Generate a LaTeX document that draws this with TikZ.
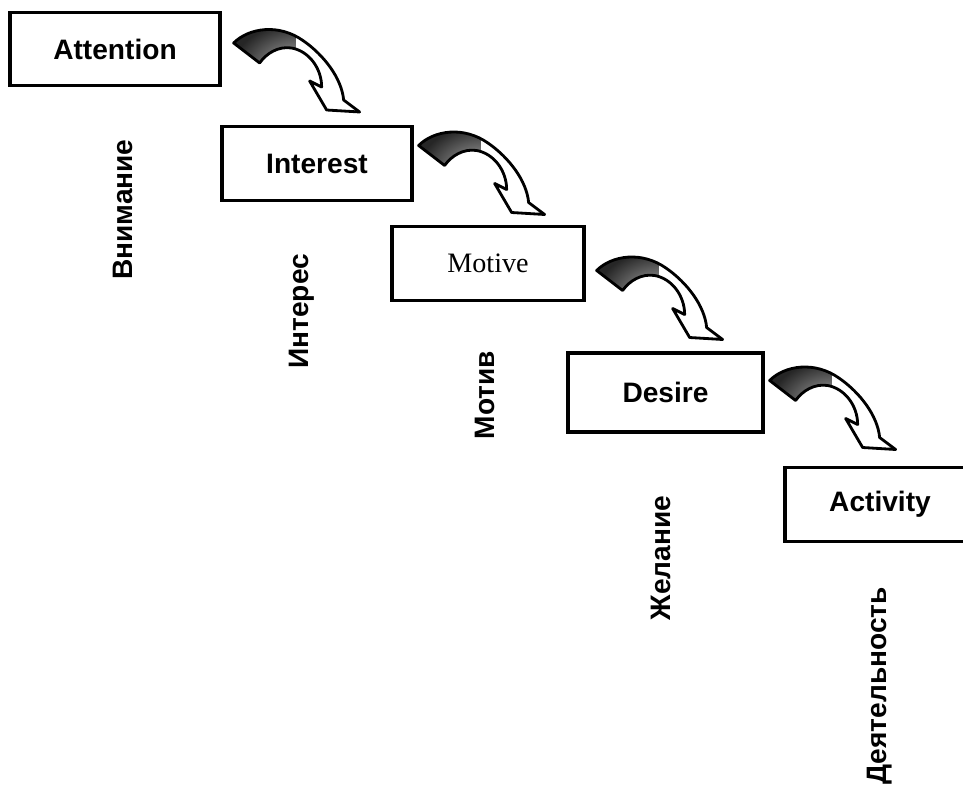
\documentclass[tikz,border=0pt]{standalone}
\usepackage{fontspec}
\setmainfont{Liberation Sans}
\newfontfamily\timesfont{Liberation Serif}

\tikzset{
  stage/.style={draw,line width=2.8pt,minimum height=2.2cm,
    font=\fontsize{24}{29}\selectfont\bfseries},
  russ/.style={rotate=90,anchor=east,font=\fontsize{24}{29}\selectfont\bfseries},
  bend arrow/.pic={
    \draw[x=0.3mm,y=-0.3mm,line width=2.4pt,line join=round,fill=white,
      path picture={\fill[inner color=gray!60,outer color=black!85]
        ([yshift=-1.5cm]path picture bounding box.north west) rectangle
        ([xshift=1.85cm]path picture bounding box.north west);}]
      (0,0) .. controls (15,-15) and (45,-20) .. (70,-2)
      .. controls (90,12) and (108,35) .. (110,57) -- (126,69) -- (93,67)
      -- (76,38) -- (88,44) .. controls (88,25) and (75,8) .. (58,5)
      .. controls (45,3) and (33,10) .. (26,20) -- cycle;
  }
}

\begin{document}
\begin{tikzpicture}
\useasboundingbox (0,0) rectangle (28.89,-23.61);
% the five stages, stepping down to the right
\node[stage,minimum width=6.3cm] (att) at (3.45,-1.47) {Attention};
\node[stage,minimum width=5.7cm] (int) at (9.51,-4.905) {Interest};
\node[stage,minimum width=5.76cm,font=\fontsize{24}{29}\timesfont]
     (mot) at (14.64,-7.905) {Motive};
\node[stage,minimum width=5.85cm,minimum height=2.37cm]
     (des) at (19.965,-11.775) {Desire};
\node[stage,minimum width=5.7cm] (act) at (26.4,-15.135) {Activity};
% russian names under the boxes
\node[russ] (vnim) at ([shift={(0.24,-1.44)}]att.south) {Внимание};
\node[russ] (inter) at ([shift={(-0.45,-1.44)}]int.south) {Интерес};
\node[russ] (motiv) at ([shift={(-0.09,-1.35)}]mot.south) {Мотив};
\node[russ] (zhel) at ([shift={(-0.135,-1.74)}]des.south) {Желание};
\node[russ] (deyat) at ([shift={(0,-1.2)}]act.south) {Деятельность};
% curved arrows between the stages
\pic at ([shift={(0.36,0.18)}]att.east) {bend arrow};
\pic at ([shift={(0.15,0.54)}]int.east) {bend arrow};
\pic at ([shift={(0.33,-0.21)}]mot.east) {bend arrow};
\pic at ([shift={(0.15,0.36)}]des.east) {bend arrow};
\end{tikzpicture}
\end{document}
